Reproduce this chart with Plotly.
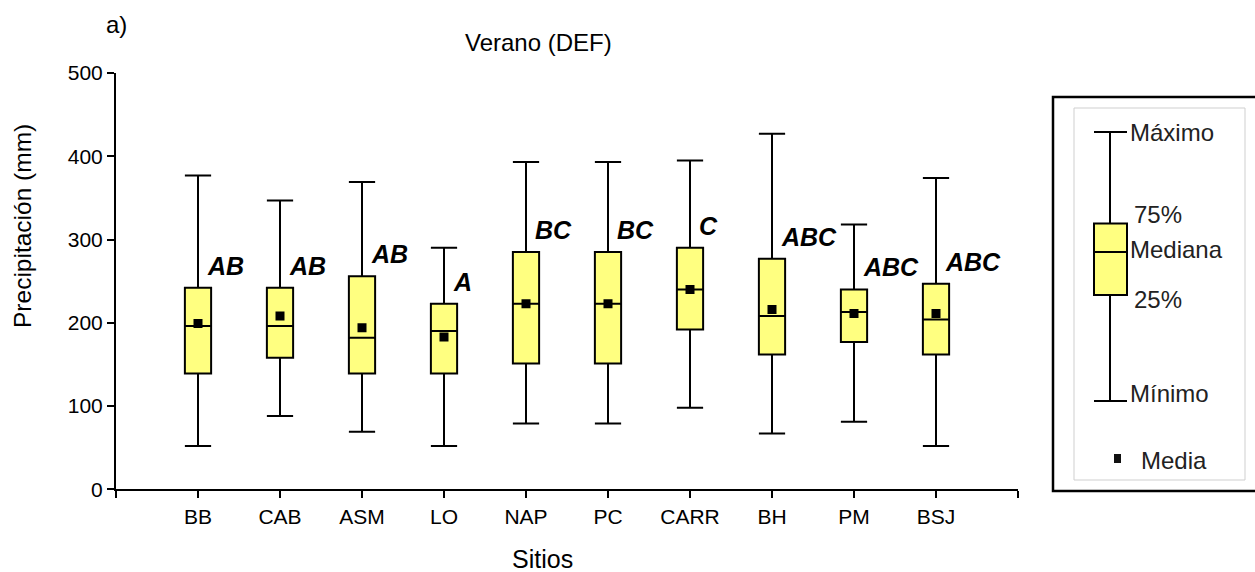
import plotly.graph_objects as go

# ---------------- data ----------------
sites = ["BB", "CAB", "ASM", "LO", "NAP", "PC", "CARR", "BH", "PM", "BSJ"]
maximum = [377, 347, 369, 290, 393, 393, 395, 427, 318, 374]
q3 = [242, 242, 256, 223, 285, 285, 290, 277, 240, 247]
median = [196, 196, 182, 190, 223, 223, 240, 208, 213, 204]
q1 = [139, 158, 139, 139, 151, 151, 192, 162, 177, 162]
minimum = [52, 88, 69, 52, 79, 79, 98, 67, 81, 52]
mean = [199, 208, 194, 183, 223, 223, 240, 216, 211, 211]
letters = ["AB", "AB", "AB", "A", "BC", "BC", "C", "ABC", "ABC", "ABC"]
y_ticks = [0, 100, 200, 300, 400, 500]

W, H = 1255, 572
FONT = "Liberation Sans, Arial, sans-serif"
YELLOW = "#FFFF80"

pos = list(range(1, len(sites) + 1))


def X(px):
    return px / W


def Y(py):
    return 1 - py / H


fig = go.Figure()

fig.add_trace(go.Box(
    x=pos, q1=q1, median=median, q3=q3,
    lowerfence=minimum, upperfence=maximum,
    width=0.32, whiskerwidth=1,
    fillcolor=YELLOW, line=dict(color="black", width=2),
    boxpoints=False, showlegend=False, hoverinfo="skip",
))

fig.add_trace(go.Scatter(
    x=pos, y=mean, mode="markers",
    marker=dict(symbol="square", size=9, color="black"),
    showlegend=False, hoverinfo="skip",
))

annotations = []
for p, lab, top in zip(pos, letters, q3):
    annotations.append(dict(
        x=p, y=top, xref="x", yref="y", text=f"<b><i>{lab}</i></b>",
        showarrow=False, xanchor="left", yanchor="middle",
        xshift=7, yshift=22,
        font=dict(family=FONT, size=25, color="black"),
    ))

# titles / labels
annotations += [
    dict(x=X(116), y=Y(24), xref="paper", yref="paper", text="a)", showarrow=False,
         xanchor="center", yanchor="middle", font=dict(family=FONT, size=24, color="black")),
    dict(x=X(538), y=Y(42), xref="paper", yref="paper", text="Verano (DEF)", showarrow=False,
         xanchor="center", yanchor="middle", font=dict(family=FONT, size=24, color="black")),
    dict(x=X(542), y=Y(559), xref="paper", yref="paper", text="Sitios", showarrow=False,
         xanchor="center", yanchor="middle", font=dict(family=FONT, size=25, color="black")),
    dict(x=X(22), y=Y(226), xref="paper", yref="paper", text="Precipitación (mm)", showarrow=False,
         textangle=-90, xanchor="center", yanchor="middle",
         font=dict(family=FONT, size=24.5, color="black")),
]

# ---------------- explanatory legend box ----------------
shapes = []
shapes.append(dict(type="rect", xref="paper", yref="paper",
                   x0=X(1053), x1=X(1265), y0=Y(491), y1=Y(97),
                   line=dict(color="black", width=2.5), fillcolor="white", layer="below"))
shapes.append(dict(type="rect", xref="paper", yref="paper",
                   x0=X(1074), x1=X(1245), y0=Y(480), y1=Y(108),
                   line=dict(color="#cfcfcf", width=1), fillcolor="white", layer="below"))
lx, cl, cr = 1110, 1094, 1127
lines = [
    (lx, 132, lx, 223.5), (lx, 295, lx, 401),
    (cl, 132, cr, 132), (cl, 401, cr, 401),
]
for x0, y0, x1, y1 in lines:
    shapes.append(dict(type="line", xref="paper", yref="paper",
                       x0=X(x0), y0=Y(y0), x1=X(x1), y1=Y(y1),
                       line=dict(color="black", width=2)))
shapes.append(dict(type="rect", xref="paper", yref="paper",
                   x0=X(cl), x1=X(cr), y0=Y(295), y1=Y(223.5),
                   line=dict(color="black", width=2), fillcolor=YELLOW))
shapes.append(dict(type="line", xref="paper", yref="paper",
                   x0=X(cl), x1=X(cr), y0=Y(252), y1=Y(252),
                   line=dict(color="black", width=2)))
shapes.append(dict(type="rect", xref="paper", yref="paper",
                   x0=X(1114), x1=X(1121), y0=Y(463), y1=Y(454),
                   line=dict(color="#111", width=0), fillcolor="#111"))

leg_font = dict(family=FONT, size=24, color="#222")
for txt, px, py in [("Máximo", 1128, 132), ("75%", 1132, 215), ("Mediana", 1128, 249),
                    ("25%", 1132, 299), ("Mínimo", 1128, 393), ("Media", 1139, 460)]:
    annotations.append(dict(x=X(px), y=Y(py), xref="paper", yref="paper", text=txt,
                            showarrow=False, xanchor="left", yanchor="middle", font=leg_font))

fig.update_layout(
    width=W, height=H,
    margin=dict(l=0, r=0, t=0, b=0, autoexpand=False),
    paper_bgcolor="white", plot_bgcolor="white",
    showlegend=False,
    annotations=annotations, shapes=shapes,
    font=dict(family=FONT, color="black"),
    xaxis=dict(
        domain=[X(116), X(1018)], range=[0, len(sites) + 1],
        tickmode="array", tickvals=list(range(0, len(sites) + 2)),
        ticktext=[""] + sites + [""],
        ticks="outside", ticklen=7, tickwidth=2, tickcolor="black",
        showline=True, linewidth=2, linecolor="black",
        showgrid=False, zeroline=False,
        tickfont=dict(family=FONT, size=21, color="black"),
    ),
    yaxis=dict(
        domain=[Y(489.3), Y(73)], range=[0, 500],
        tickmode="array", tickvals=y_ticks,
        ticks="outside", ticklen=7, tickwidth=2, tickcolor="black",
        showline=True, linewidth=2, linecolor="black",
        showgrid=False, zeroline=False,
        tickfont=dict(family=FONT, size=21, color="black"),
    ),
)

fig.write_html("out.html")
